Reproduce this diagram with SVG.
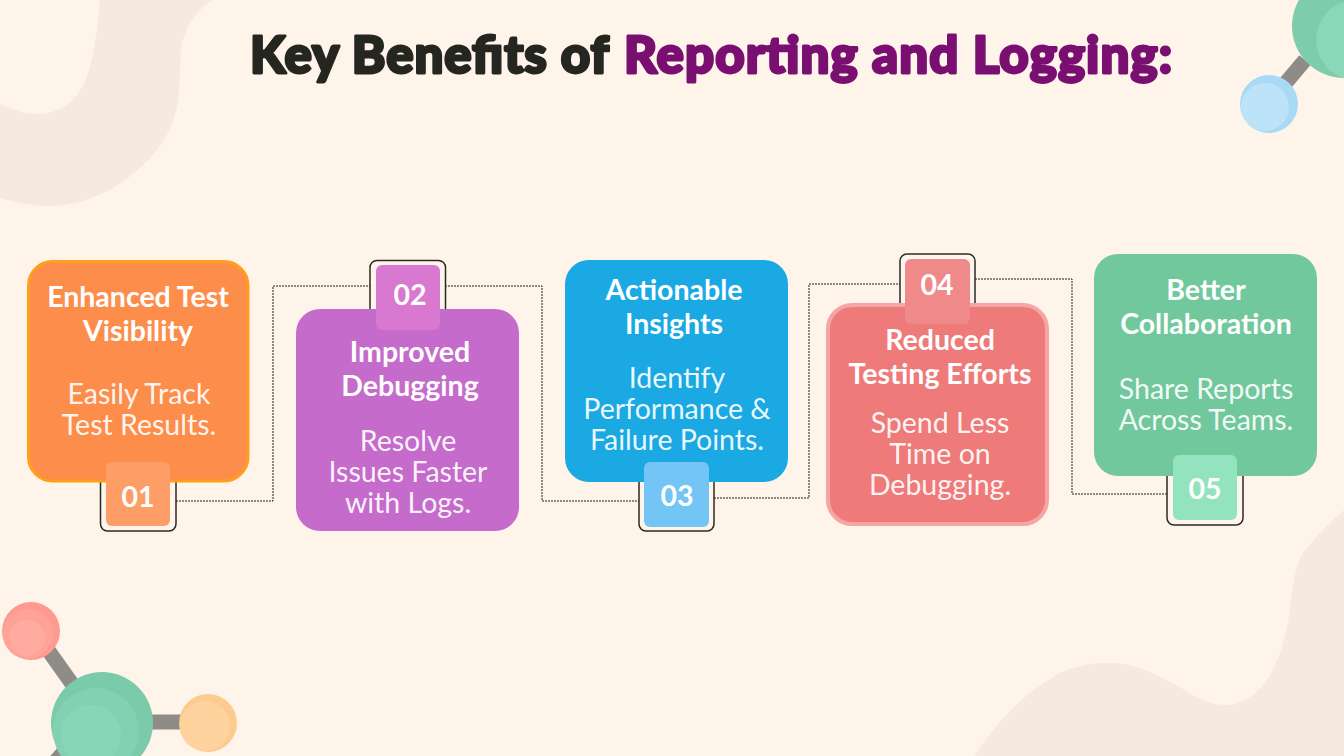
<svg xmlns="http://www.w3.org/2000/svg" width="1344" height="756" viewBox="0 0 1344 756">
<style>
.h{font-family:"Lato","Liberation Sans",sans-serif;font-weight:700;font-size:28.500px;fill:#fff;text-anchor:middle}
.b{font-family:"Lato","Liberation Sans",sans-serif;font-weight:400;font-size:28.500px;fill:#fff;text-anchor:middle;fill-opacity:.93}
.n{font-family:"Lato","Liberation Sans",sans-serif;font-weight:700;font-size:28.500px;fill:#fff;text-anchor:middle}
.o{fill:#fff5ec;stroke:#2a2a25;stroke-width:1.5}
.t{font-family:"Lato","Liberation Sans",sans-serif;font-weight:900;font-size:51px;stroke-width:2.800;stroke-linejoin:round}
.c{fill:none;stroke:#1f1f1a;stroke-width:1;stroke-dasharray:2 1}
.bond{stroke:#8f8c87;stroke-width:15;fill:none}
</style>
<rect width="1344" height="756" fill="#fef4ea"/>
<g id="blobs" fill="#f5e9e0">
<path d="M0 104C14 110 25 114 35 114C55 114 68 107 78 94C92 75 97 35 100 0L213 0C196 10 183 30 181 50C179 75 181 100 174 118C165 145 150 160 128 178C105 196 75 206 48 206C30 206 12 201 0 198Z"/>
<path d="M975 756C990 730 1020 695 1060 673C1080 664 1095 663 1110 663C1135 663 1160 675 1193 695C1205 702 1215 705 1227 705C1245 705 1262 690 1272 672C1283 650 1287 630 1290 610C1293 585 1295 565 1303 553C1313 540 1330 522 1344 510L1344 756Z"/>
</g>
<g id="molecule-top">
<line class="bond" x1="1305" y1="60" x2="1278" y2="92"/>
<circle cx="1344" cy="26" r="52" fill="#7dcdaa"/><circle cx="1356" cy="40" r="40" fill="#8ad8b8"/>
<circle cx="1269" cy="104" r="29" fill="#a8d9f5"/><circle cx="1265" cy="107" r="24" fill="#bde3f8"/>
</g>
<g id="molecule-bottom">
<line class="bond" x1="48" y1="650" x2="80" y2="695"/>
<line class="bond" x1="140" y1="722" x2="190" y2="722"/>
<line class="bond" x1="70" y1="745" x2="55" y2="762"/>
<circle cx="31" cy="631" r="29" fill="#fe9a90"/><circle cx="28" cy="634" r="25" fill="#ffa298"/><circle cx="27" cy="638" r="18" fill="#ffab9f"/>
<circle cx="102" cy="723" r="51" fill="#7bcbab"/><circle cx="96" cy="731" r="43" fill="#82d1b3"/><circle cx="91" cy="735" r="30" fill="#88d6b9"/>
<circle cx="208" cy="723" r="29" fill="#fccb8e"/><circle cx="205" cy="726" r="25" fill="#fed39e"/>
</g>
<text id="title" class="t" x="250" y="73"><tspan fill="#262620" stroke="#262620" textLength="359">Key Benefits of</tspan><tspan x="624" fill="#7a0f72" stroke="#7a0f72" textLength="548">Reporting and Logging:</tspan></text>
<g id="connectors">
<path class="c" d="M176 501H273V286H370"/>
<path class="c" d="M445 286H542V501H639"/>
<path class="c" d="M714 498H809V284H900"/>
<path class="c" d="M975 279H1072V494H1167"/>
</g>
<g id="node-1">
<rect class="o" x="100.500" y="440" width="75.500" height="91" rx="7"/>
<rect x="28.500" y="261.500" width="219.500" height="219.500" rx="24" fill="#fd8d4b" stroke="#ff9f1c" stroke-width="3"/>
<rect x="106" y="462" width="64" height="64" rx="6" fill="#fe9e66"/>
<text class="h" x="138" y="307">Enhanced Test</text><text class="h" x="138" y="341">Visibility</text>
<text class="b" x="139" y="404">Easily Track</text><text class="b" x="139" y="435">Test Results.</text>
<text class="n" x="138" y="507">01</text>
</g>
<g id="node-2">
<rect class="o" x="370" y="260.500" width="75.500" height="91" rx="7"/>
<rect x="296" y="309" width="223" height="222" rx="24" fill="#c56bcb"/>
<rect x="376" y="265" width="64" height="65" rx="6" fill="#d878d0"/>
<text class="n" x="410" y="305">02</text>
<text class="h" x="410" y="362">Improved</text><text class="h" x="410" y="396">Debugging</text>
<text class="b" x="408" y="451">Resolve</text><text class="b" x="408" y="482">Issues Faster</text><text class="b" x="408" y="513">with Logs.</text>
</g>
<g id="node-3">
<rect class="o" x="639" y="440" width="75" height="91" rx="7"/>
<rect x="565" y="260" width="223" height="222" rx="24" fill="#1aa9e3"/>
<rect x="644" y="462" width="65" height="65" rx="6" fill="#73c5f5"/>
<text class="h" x="674" y="300">Actionable</text><text class="h" x="674" y="334">Insights</text>
<text class="b" x="677" y="388">Identify</text><text class="b" x="677" y="419">Performance &amp;</text><text class="b" x="677" y="450">Failure Points.</text>
<text class="n" x="677" y="506">03</text>
</g>
<g id="node-4">
<rect class="o" x="900" y="254" width="75" height="91" rx="7"/>
<rect x="828" y="305" width="219" height="219" rx="24" fill="#ee7a7a" stroke="#f6a5a5" stroke-width="4"/>
<rect x="905" y="259" width="65" height="65" rx="6" fill="#f08a8a"/>
<text class="n" x="937" y="295">04</text>
<text class="h" x="940" y="350">Reduced</text><text class="h" x="940" y="384">Testing Efforts</text>
<text class="b" x="940" y="433">Spend Less</text><text class="b" x="940" y="464">Time on</text><text class="b" x="940" y="495">Debugging.</text>
</g>
<g id="node-5">
<rect class="o" x="1167" y="434" width="76" height="91" rx="7"/>
<rect x="1094" y="254" width="223" height="222" rx="24" fill="#72c89d"/>
<rect x="1173" y="455" width="64" height="65" rx="6" fill="#93e3bf"/>
<text class="h" x="1206" y="300">Better</text><text class="h" x="1206" y="334">Collaboration</text>
<text class="b" x="1206" y="399">Share Reports</text><text class="b" x="1206" y="430">Across Teams.</text>
<text class="n" x="1205" y="499">05</text>
</g>
</svg>
